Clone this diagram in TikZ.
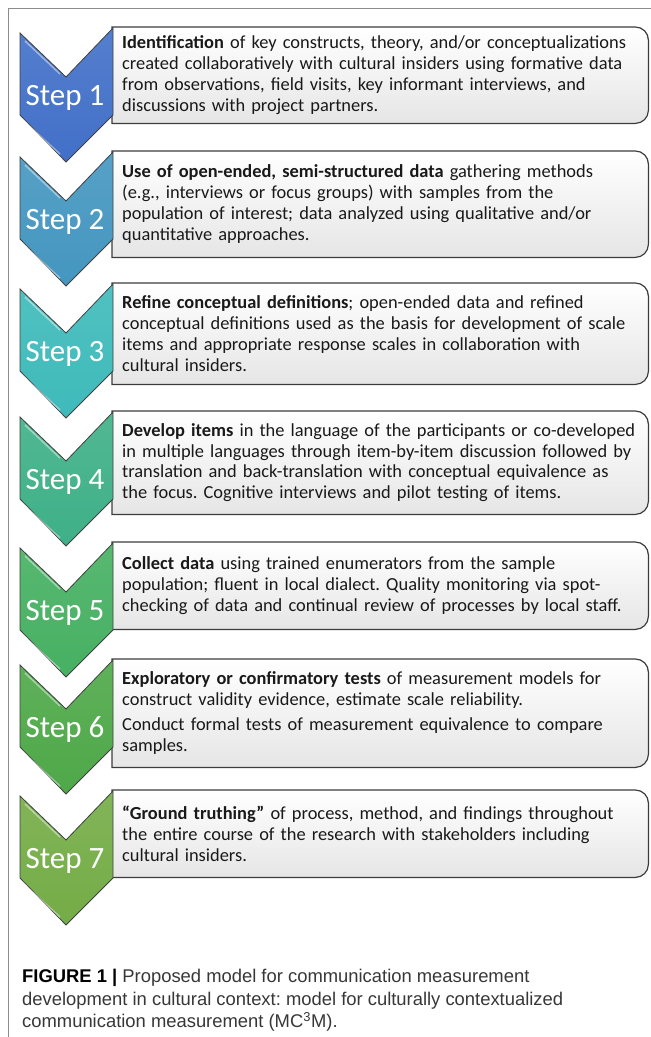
\documentclass[tikz,border=0pt]{standalone}
\usepackage{fontspec}
\setmainfont{Carlito}
\newfontfamily\capfont{Liberation Sans}
\usetikzlibrary{backgrounds}

\definecolor{stepa}{RGB}{66,112,200}
\definecolor{stepb}{RGB}{68,150,192}
\definecolor{stepc}{RGB}{62,186,186}
\definecolor{stepd}{RGB}{62,176,136}
\definecolor{stepe}{RGB}{70,176,98}
\definecolor{stepf}{RGB}{78,168,72}
\definecolor{stepg}{RGB}{116,172,70}
\definecolor{boxline}{RGB}{60,60,60}
\definecolor{captext}{RGB}{55,55,55}

\frenchspacing
\begin{document}
\begin{tikzpicture}[x = 1pt, y = -1pt,
        stepbox/.style = {anchor = north west, text width = 516pt, inner xsep = 10pt, inner ysep = 0pt,
            align = left, text = black!90, font = \fontsize{18.4}{20.8}\selectfont},
        steplabel/.style = {anchor = base, text = white, font = \fontsize{31}{31}\selectfont},
        chev/.style = {draw = black!75, line width = .8pt},
        frame/.style = {draw = boxline, line width = 1.2pt, top color = white, bottom color = black!10}]
        \useasboundingbox (0,0) rectangle (651,1037);
        \draw[black!45, line width = 1pt] (8,1037) |- (651,8);

        % text of the seven steps
        \node[stepbox, minimum height = 96pt] (s1) at (112,27) {\textbf{Identification} of key constructs, theory, and/or conceptualizations\\
            created collaboratively with cultural insiders using formative data\\
            from observations, field visits, key informant interviews, and\\
            discussions with project partners.};
        \node[stepbox, minimum height = 106pt] (s2) at (112,151) {\textbf{Use of open-ended, semi-structured data} gathering methods\\
            (e.g., interviews or focus groups) with samples from the\\
            population of interest; data analyzed using qualitative and/or\\
            quantitative approaches.};
        \node[stepbox, minimum height = 101pt] (s3) at (112,283) {\textbf{Refine conceptual definitions}; open-ended data and refined\\
            conceptual definitions used as the basis for development of scale\\
            items and appropriate response scales in collaboration with\\
            cultural insiders.};
        \node[stepbox, minimum height = 103pt] (s4) at (112,411) {\textbf{Develop items} in the language of the participants or co-developed\\
            in multiple languages through item-by-item discussion followed by\\
            translation and back-translation with conceptual equivalence as\\
            the focus. Cognitive interviews and pilot testing of items.};
        \node[stepbox, minimum height = 87pt] (s5) at (112,542) {\textbf{Collect data} using trained enumerators from the sample\\
            population; fluent in local dialect. Quality monitoring via spot-\\
            checking of data and continual review of processes by local staff.};
        \node[stepbox, minimum height = 108pt] (s6) at (112,659) {\textbf{Exploratory or confirmatory tests} of measurement models for\\
            construct validity evidence, estimate scale reliability.\\[4pt]
            Conduct formal tests of measurement equivalence to compare\\
            samples.};
        \node[stepbox, minimum height = 87pt] (s7) at (112,790) {\textbf{“Ground truthing”} of process, method, and findings throughout\\
            the entire course of the research with stakeholders including\\
            cultural insiders.};

        % boxes behind the text, square on the left
        \begin{scope}[on background layer]
            \foreach \n in {1,...,7}
                \draw[frame] (s\n.south west) -- (s\n.north west) -- ([xshift = -13pt]s\n.north east)
                    arc[start angle = 90, end angle = 0, radius = 13pt] -- ([yshift = 13pt]s\n.south east)
                    arc[start angle = 0, end angle = -90, radius = 13pt] -- cycle;
        \end{scope}

        % chevrons
        \foreach \n/\t/\c in {1/27/stepa, 2/151/stepb, 3/283/stepc, 4/411/stepd, 5/542/stepe, 6/659/stepf, 7/790/stepg} {
            \draw[chev, top color = \c!90!white, bottom color = \c] (113,\t+1) -- (66,\t+50) -- (20,\t+6)
                -- (20,\t+88) -- (66,\t+135) -- (113,\t+88) -- cycle;
            \draw[white, opacity = .45, line width = 1.5pt] (25,\t+14) -- (60,\t+47);
            \draw[white, opacity = .45, line width = 1.5pt] (25,\t+95) -- (60,\t+127);
            \node[steplabel] (l\n) at (65,\t+78) {Step \n};
        }

        \node[anchor = north west, align = left, inner sep = 0pt, text = captext,
            font = \capfont\fontsize{18.4}{22.5}\selectfont] (cap) at (22,969)
            {\textbf{\color{black}FIGURE 1 |} Proposed model for communication measurement\\
            development in cultural context: model for culturally contextualized\\
            communication measurement (MC\textsuperscript{3}M).};
\end{tikzpicture}
\end{document}
